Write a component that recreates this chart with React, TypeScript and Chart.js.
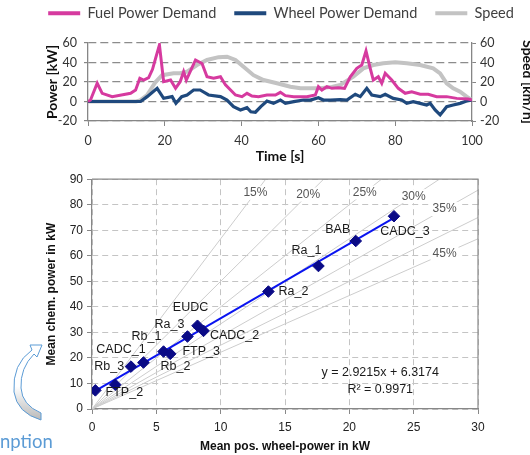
import React, { useEffect, useRef } from 'react';
import { Chart, registerables } from 'chart.js';
Chart.register(...registerables);

// ---------- Top chart data (time series) ----------
const fuelTime = [0, 0.65, 2.4, 3.7, 6.3, 11.1, 12.4, 13.5, 14.5, 15.8, 16.8, 17.6, 18.6, 19.7, 21.5, 22.8, 24, 24.9, 25.6, 28, 29.7, 31, 32.7, 34.5, 35.8, 38.4, 40.1, 41.4, 42.7, 44.4, 46.6, 48.8, 50.1, 51.4, 53.6, 57, 59.2, 60, 60.9, 62.2, 63.5, 65.2, 66.8, 68.3, 70, 71.3, 72.4, 73.5, 74.3, 75.6, 76.5, 77.4, 79.1, 80.8, 82.6, 84.3, 86.5, 88.6, 90.8, 93.4, 96, 99, 100];
const fuelPower = [0, 1.5, 18.7, 8.4, 4.9, 8.4, 11.8, 23.8, 22, 24.4, 33, 44.3, 58, 20.3, 22, 13.5, 20.3, 30.6, 22, 42.6, 39, 25.4, 23.8, 25.4, 17, 6.7, 5, 8.4, 5.6, 5, 6.7, 6.7, 9.4, 6, 5, 5, 6.7, 15.2, 11.8, 15.2, 13.5, 14.2, 13.5, 25.4, 34, 37.4, 51.8, 34, 22, 25.4, 18.7, 28.9, 22, 13.5, 8.4, 10, 7.4, 7.4, 5, 5, 3.2, 2.6, 1.5];

const wheelTime = [0, 13.7, 15.4, 18, 19.7, 21.9, 22.9, 24.4, 25.8, 27.5, 29.2, 31.4, 34.5, 36.2, 37.9, 39.7, 41.4, 42.4, 43.6, 45, 46.6, 48.3, 50.1, 51.4, 53.6, 56.1, 57.9, 60, 61.3, 63.1, 65.7, 67.4, 69.6, 70.9, 72.6, 73.9, 76.1, 77.4, 79.5, 81.7, 83, 84.7, 86.5, 88.2, 89.1, 90.4, 91.7, 93.4, 95.1, 96.9, 98.6, 100];
const wheelPower = [0, 0, 5, 13.5, 3.3, 5, -1.9, 5, 6.7, 11.8, 11.8, 6.7, 5, 1.5, -5.3, -8.7, -6.3, -10.5, -11, -5.3, 0.5, -1.9, 1.5, -1.9, -0.2, 1.5, 1.5, 3.9, 1.5, 1.5, 2, 1.5, 7.4, 5, 13.5, 6.7, 5, 7.4, 3.2, 1.5, -1.9, -0.2, -1.9, -3.6, -1.9, -8.7, -13.8, -5.3, -3.6, -1.9, 0.5, 1.5];

const speedTime = [0, 12.5, 13.5, 15.4, 17.6, 19.3, 22.3, 24, 25.8, 28.4, 31, 34, 36.2, 38.4, 40.5, 43.1, 45.7, 49.2, 52.7, 55.3, 60.5, 63.5, 65.7, 69.1, 71.7, 74.3, 76.9, 80, 83, 86.5, 89.9, 91.7, 93.4, 95.1, 96.9, 98.6, 100];
const speedValue = [0, 0, 1, 6.7, 20, 27, 29, 29, 30.6, 37.4, 42.6, 45.5, 46, 42.6, 35.7, 27, 22, 18.7, 15.2, 13.5, 13.5, 15, 17, 25.4, 34, 37.4, 39.2, 40.2, 39.2, 37.4, 34, 28.9, 18.7, 13.5, 10, 5, 1.5];

const seriesLabels = ['Fuel Power Demand', 'Wheel Power Demand', 'Speed'];

// ---------- Bottom chart data (scatter) ----------
const testNames = ['FTP_2', 'Rb_3', 'CADC_1', 'Rb_1', 'Rb_2', 'FTP_3', 'Ra_3', 'EUDC', 'CADC_2', 'Ra_2', 'Ra_1', 'BAB', 'CADC_3'];
const meanWheelPower = [0.26, 1.81, 3.03, 4.0, 5.56, 6.08, 7.42, 8.2, 8.67, 13.71, 17.6, 20.5, 23.47];
const meanChemPower = [7.3, 9.5, 16.6, 18.2, 22.5, 21.6, 28.4, 32.6, 30.6, 46.0, 56.0, 65.8, 75.5];
const trendSlope = 2.9215;
const trendIntercept = 6.3174;
const trendR2 = 0.9971;
const efficiencies = [15, 20, 25, 30, 35, 40, 45];

// label layout (pixels / positions only)
const pointLabelOffsets = [[29, 2], [-6, -18], [-10, -17], [3, -26], [12, 15], [31, -2], [-18, -12], [-7, -18], [31, 5], [25, 0], [-12, -15], [-18, -11], [11, 15]];
const effLabelAtX = [12.7, 16.8, 21.2, 25.0, 27.4, null, 27.4];

const PINK = '#d63a9f';
const BLUE = '#1f497d';
const LGRAY = '#c3c3c3';
const AXIS = '#868686';
const TOPFONT = 'Lato, "Open Sans", sans-serif';
const BOTFONT = '"Liberation Sans", Arial, sans-serif';

function TopChart() {
  const ref = useRef<HTMLCanvasElement>(null);
  useEffect(() => {
    const pts = (t: number[], v: number[]) => t.map((x, i) => ({ x, y: v[i] }));
    const tickFont = { family: TOPFONT, size: 12.5 };
    const titleFont = { family: TOPFONT, size: 14, weight: 'bold' as const };
    const chart = new Chart(ref.current!, {
      type: 'line',
      data: {
        datasets: [
          { label: seriesLabels[0], data: pts(fuelTime, fuelPower), borderColor: PINK, backgroundColor: PINK, borderWidth: 3, pointRadius: 0, tension: 0, yAxisID: 'y', xAxisID: 'x' },
          { label: seriesLabels[1], data: pts(wheelTime, wheelPower), borderColor: BLUE, backgroundColor: BLUE, borderWidth: 3.2, pointRadius: 0, tension: 0, yAxisID: 'y', xAxisID: 'x' },
          { label: seriesLabels[2], data: pts(speedTime, speedValue), borderColor: LGRAY, backgroundColor: LGRAY, borderWidth: 4, pointRadius: 0, tension: 0, yAxisID: 'y2', xAxisID: 'x' },
        ],
      },
      options: {
        responsive: false,
        animation: false,
        layout: { padding: 0 },
        plugins: {
          tooltip: { enabled: false },
          legend: {
            position: 'top',
            labels: {
              boxWidth: 32,
              boxHeight: 4,
              padding: 18,
              color: '#404040',
              font: { family: TOPFONT, size: 14.5 },
              generateLabels: (c: any) =>
                Chart.defaults.plugins.legend.labels.generateLabels(c).map((it: any) => ({ ...it, lineWidth: 0 })),
            },
          },
        },
        scales: {
          x: {
            type: 'linear', position: 'bottom', min: 0, max: 100,
            ticks: { stepSize: 20, font: tickFont, color: '#333', padding: 7, maxRotation: 0 },
            grid: { drawOnChartArea: false, drawTicks: true, tickLength: 5, color: AXIS, tickColor: AXIS },
            border: { color: AXIS, width: 1.3 },
            title: { display: true, text: 'Time [s]', font: titleFont, color: '#111', padding: { top: 0, bottom: 0 } },
            afterFit: (s: any) => { s.height = 44; },
          },
          xTop: {
            type: 'linear', position: 'top', display: true,
            grid: { display: false }, border: { display: false }, ticks: { display: false },
            afterFit: (s: any) => { s.height = 12.5; },
          },
          y: {
            position: 'left', min: -20, max: 60,
            ticks: { stepSize: 20, font: tickFont, color: '#333', padding: 7 },
            grid: { color: '#8c8c8c', lineWidth: 1.2, tickColor: AXIS, tickLength: 4, tickBorderDash: [] },
            border: { color: AXIS, width: 1.3, dash: [8, 4] },
            title: { display: true, text: 'Power [kW]', font: titleFont, color: '#111', padding: { top: 44, bottom: 0 } },
            afterFit: (s: any) => { s.width = 88; },
          },
          y2: {
            position: 'right', min: -20, max: 60,
            ticks: { stepSize: 20, font: tickFont, color: '#333', padding: 4 },
            grid: { drawOnChartArea: false, tickColor: AXIS, tickLength: 4 },
            border: { color: AXIS, width: 1.3 },
            title: { display: true, text: 'Speed [km/h]', font: titleFont, color: '#111', padding: { top: 26, bottom: 0 } },
            afterFit: (s: any) => { s.width = 90; },
          },
        },
      } as any,
    });
    return () => chart.destroy();
  }, []);
  return <canvas ref={ref} width={562} height={177} style={{ position: 'absolute', left: 0, top: -12, width: 562, height: 177 }} />;
}

function BottomChart() {
  const ref = useRef<HTMLCanvasElement>(null);
  useEffect(() => {
    const xMin = Math.min(...meanWheelPower);
    const xMax = Math.max(...meanWheelPower);
    const trend = [xMin, xMax].map((x) => ({ x, y: trendSlope * x + trendIntercept }));
    const effDatasets = efficiencies.map((e) => {
      const k = 100 / e;
      const end = 90 / k <= 30 ? { x: 90 / k, y: 90 } : { x: 30, y: 30 * k };
      return { type: 'line' as const, label: e + '%', data: [{ x: 0, y: 0 }, end], borderColor: '#cdcdcd', borderWidth: 1, pointRadius: 0, order: 2 };
    });
    const labelsPlugin = {
      id: 'labelsPlugin',
      afterDatasetsDraw(chart: any) {
        const { ctx, scales: { x, y }, chartArea } = chart;
        ctx.save();
        ctx.font = `12px ${BOTFONT}`;
        ctx.textAlign = 'center';
        ctx.textBaseline = 'middle';
        efficiencies.forEach((e, i) => {
          const lx = effLabelAtX[i];
          if (lx == null) return;
          const px = x.getPixelForValue(lx);
          const py = y.getPixelForValue(lx * 100 / e);
          const t = e + '%';
          const w = ctx.measureText(t).width;
          ctx.fillStyle = '#ffffff';
          ctx.fillRect(px - w / 2 - 2, py - 7, w + 4, 14);
          ctx.fillStyle = '#555555';
          ctx.fillText(t, px, py);
        });
        const meta = chart.getDatasetMeta(0);
        ctx.fillStyle = '#1a1a1a';
        ctx.font = `12.5px ${BOTFONT}`;
        meta.data.forEach((pt: any, i: number) => {
          const [dx, dy] = pointLabelOffsets[i];
          ctx.fillText(testNames[i], pt.x + dx, pt.y + dy);
        });
        ctx.font = `12.5px ${BOTFONT}`;
        ctx.fillText(`y = ${trendSlope}x + ${trendIntercept}`, x.getPixelForValue(22.4), y.getPixelForValue(14.2));
        ctx.fillText(`R² = ${trendR2}`, x.getPixelForValue(22.4), y.getPixelForValue(7.6));
        ctx.strokeStyle = '#8a8a8a';
        ctx.lineWidth = 1.2;
        ctx.beginPath();
        ctx.moveTo(chartArea.left, chartArea.top);
        ctx.lineTo(chartArea.right, chartArea.top);
        ctx.lineTo(chartArea.right, chartArea.bottom);
        ctx.stroke();
        ctx.restore();
      },
    };
    const tickFont = { family: BOTFONT, size: 12 };
    const titleFont = { family: BOTFONT, size: 12, weight: 'bold' as const };
    const chart = new Chart(ref.current!, {
      type: 'scatter',
      data: {
        datasets: [
          { type: 'scatter', label: 'tests', data: meanWheelPower.map((x, i) => ({ x, y: meanChemPower[i] })), pointStyle: 'rectRot', pointRadius: 5.8, backgroundColor: '#0a0a86', borderColor: '#0a0a86', borderWidth: 1, order: 0 },
          { type: 'line', label: 'trend', data: trend, borderColor: '#0a14f0', borderWidth: 2, pointRadius: 0, order: 1 },
          ...effDatasets,
        ] as any,
      },
      options: {
        responsive: false,
        animation: false,
        layout: { padding: { top: 11, right: 52, left: 0, bottom: 0 } },
        plugins: { legend: { display: false }, tooltip: { enabled: false } },
        scales: {
          x: {
            type: 'linear', min: 0, max: 30,
            ticks: { stepSize: 5, font: tickFont, color: '#222', padding: 6, maxRotation: 0 },
            grid: { color: '#c4c4c4', tickColor: '#888', tickLength: 5, tickBorderDash: [] },
            border: { color: '#888', width: 1.2, dash: [6, 4] },
            title: { display: true, text: 'Mean pos. wheel-power in kW', font: titleFont, color: '#111', padding: { top: 0, bottom: 1 } },
            afterFit: (s: any) => { s.height = 46; },
          },
          y: {
            type: 'linear', min: 0, max: 90,
            ticks: { stepSize: 10, font: tickFont, color: '#222', padding: 4 },
            grid: { color: '#c4c4c4', tickColor: '#888', tickLength: 5, tickBorderDash: [] },
            border: { color: '#888', width: 1.2, dash: [6, 4] },
            title: { display: true, text: 'Mean chem. power in kW', font: titleFont, color: '#111', padding: { top: 44, bottom: 0 } },
            afterFit: (s: any) => { s.width = 92; },
          },
        },
      } as any,
      plugins: [labelsPlugin],
    });
    return () => chart.destroy();
  }, []);
  return <canvas ref={ref} width={530} height={287} style={{ position: 'absolute', left: 0, top: 168, width: 530, height: 287 }} />;
}

export default function App() {
  return (
    <div style={{ position: 'fixed', left: 0, top: 0, width: 530, height: 455, overflow: 'hidden', background: '#fff' }}>
      <TopChart />
      <BottomChart />
      <svg width={60} height={100} style={{ position: 'absolute', left: 0, top: 330 }}>
        <defs>
          <linearGradient id="arrowFill" x1="0" y1="0" x2="0" y2="1">
            <stop offset="0.55" stopColor="#ffffff" />
            <stop offset="1" stopColor="#b9b9b9" />
          </linearGradient>
        </defs>
        <path d="M 41,90 L 41,83 Q 22,75 21,58 Q 20,38 34,24 L 37,27 L 42,15 L 30,15 L 32,20 Q 12,34 14,62 Q 17,83 41,90 Z" fill="url(#arrowFill)" stroke="#5b9bd5" strokeWidth={1} />
      </svg>
      <div style={{ position: 'absolute', left: 0, top: 430, font: `18.5px ${TOPFONT}`, color: '#5b9bd5', whiteSpace: 'nowrap' }}>nption</div>
    </div>
  );
}
